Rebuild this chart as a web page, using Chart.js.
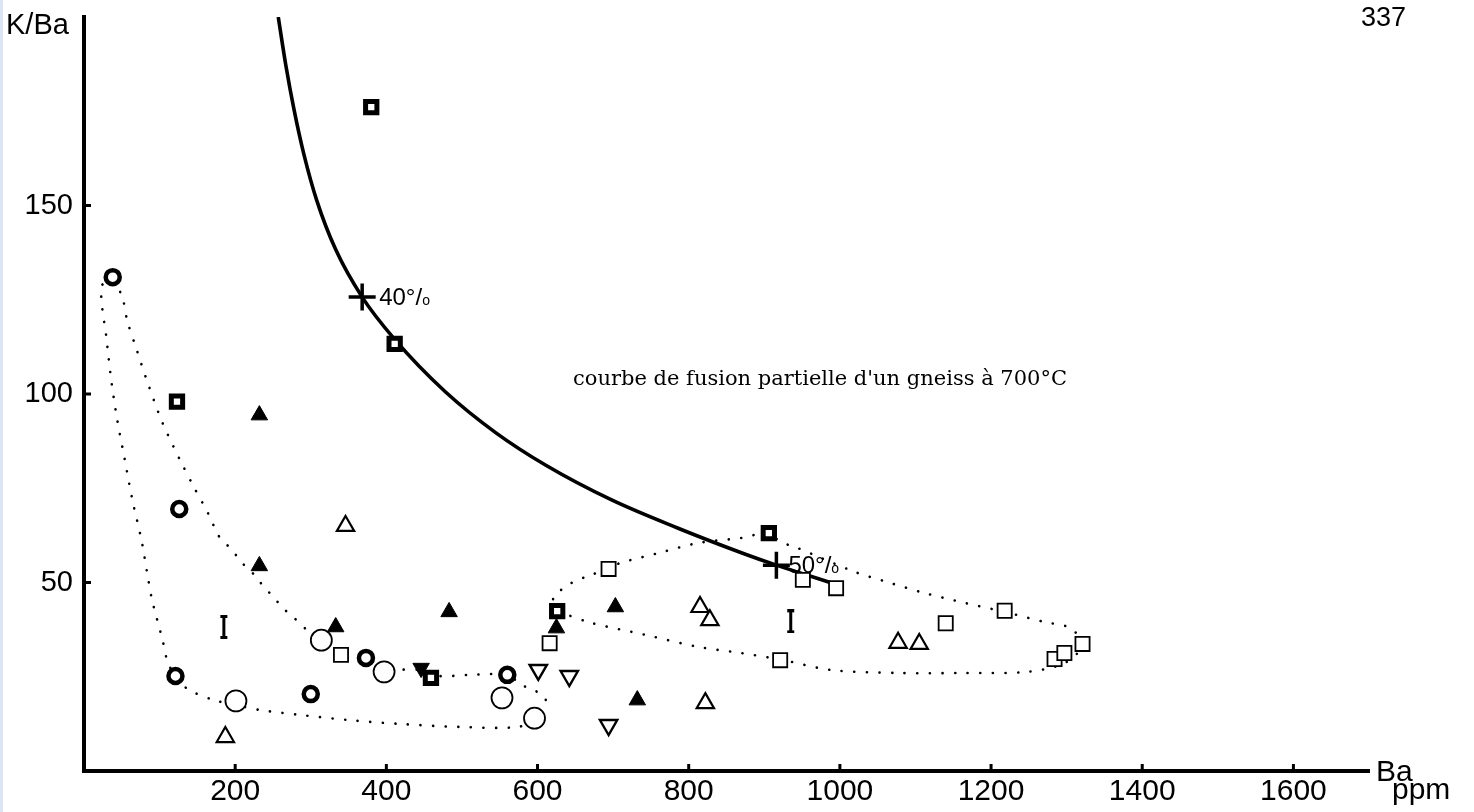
<!DOCTYPE html>
<html>
<head>
<meta charset="utf-8">
<script src="https://cdn.jsdelivr.net/npm/chart.js@4"></script>
<style>
  body { margin: 0; background: #fff; }
  #wrap { position: relative; width: 1474px; height: 812px; }
  #strip { position: absolute; left: 0; top: 0; width: 3px; height: 812px; background: #dce5f3; }
</style>
</head>
<body>
<div id="wrap">
  <canvas id="chart" width="1474" height="812"></canvas>
  <div id="strip"></div>
</div>
<script>
// axis ticks
const xTicks = [200, 400, 600, 800, 1000, 1200, 1400, 1600];
const yTicks = [50, 100, 150];

// partial melting curve of a gneiss at 700 C
const curveBa  = [257, 267, 278, 291, 308, 333, 368, 411, 478, 545, 611, 698, 786, 875, 916, 995];
const curveKBa = [200, 187.2, 175.3, 163.5, 151.3, 138.3, 125.7, 114.5, 100.6, 89.7, 81.1, 71.9, 64.4, 57.5, 54.6, 49.5];
const meltBa = [368, 916];
const meltKBa = [125.7, 54.6];
const meltLabels = ['40', '50'];

// dotted envelopes
const loopABa  = [38, 23, 30, 36, 44, 54, 64, 76, 84, 90, 104, 110, 121, 139, 172, 201, 232, 285, 351, 417, 496, 575, 596, 611, 609, 595, 579, 560, 509, 469, 443, 413, 397, 373, 340, 315, 295, 278, 266, 248, 236, 228, 212, 203, 192, 179, 164, 146, 129, 104, 83, 69, 57, 51, 38];
const loopAKBa = [131, 128.4, 114.3, 103.7, 93.1, 82.5, 71.9, 61.3, 52, 45.4, 34.7, 29.4, 24.9, 21.5, 18.8, 17.5, 16.2, 14.9, 13.5, 12.5, 11.7, 11.7, 14.1, 18, 19.6, 21.5, 22.8, 25.5, 25.5, 25.2, 26.8, 26.8, 26.3, 30, 30.8, 34.7, 37.4, 40.6, 42.7, 46.7, 49.3, 51.5, 54.6, 56.8, 59.4, 62.1, 68.4, 75.1, 81.7, 92.3, 103.7, 112.2, 119.6, 125.5, 131];
const loopBBa  = [626, 621, 645, 671, 694, 710, 760, 813, 869, 905, 922, 941, 1020, 1063, 1112, 1165, 1218, 1271, 1305, 1321, 1297, 1248, 1165, 1077, 988, 925, 869, 813, 743, 671, 626];
const loopBKBa = [42.4, 45.9, 49.9, 52, 53.8, 55.2, 57.8, 60.5, 61.8, 63.1, 60.7, 59.4, 52.8, 50.1, 47.2, 44.6, 42.2, 39.5, 37.9, 33.4, 28.6, 26.3, 26, 26, 26.8, 29.4, 31.3, 32.9, 36.1, 39.3, 42.4];

// samples, one pair of arrays per symbol
const boldCircleBa  = [38, 126, 121, 300, 373, 560];
const boldCircleKBa = [131, 69.5, 25.2, 20.4, 30, 25.5];
const openCircleBa  = [201, 314, 397, 553, 596];
const openCircleKBa = [18.6, 34.7, 26.3, 19.4, 14];
const dotSquareBa   = [380, 411, 123, 459, 626, 906];
const dotSquareKBa  = [176.1, 113.3, 98, 24.7, 42.4, 63.1];
const openSquareBa  = [340, 616, 694, 951, 995, 921, 1140, 1218, 1284, 1297, 1321];
const openSquareKBa = [30.8, 33.9, 53.6, 50.7, 48.5, 29.4, 39.2, 42.5, 29.7, 31.3, 33.7];
const filledTriBa   = [232, 232, 333, 483, 625, 703, 732];
const filledTriKBa  = [94.4, 54.4, 38.2, 42.2, 37.9, 43.5, 18.8];
const openTriBa     = [346, 187, 815, 828, 822, 1077, 1105];
const openTriKBa    = [65, 9, 43.5, 40, 18, 34, 33.7];
const openDownBa    = [601, 642, 694];
const openDownKBa   = [26.8, 25.2, 12.2];
const filledDownBa  = [446];
const filledDownKBa = [27.3];
const barBa         = [185, 935];
const barKBa        = [38.2, 39.7];

function pts(xs, ys) {
  return xs.map((v, i) => ({ x: v, y: ys[i] }));
}

// "I" shaped symbol
function barSymbol() {
  const c = document.createElement('canvas');
  c.width = 9; c.height = 24;
  const g = c.getContext('2d');
  g.fillStyle = '#000';
  g.fillRect(3, 1, 3, 22);
  g.fillRect(1, 0, 7, 3);
  g.fillRect(1, 21, 7, 3);
  return c;
}

function markers(xs, ys, style, opts) {
  return Object.assign({
    data: pts(xs, ys),
    pointStyle: style,
    showLine: false,
    borderColor: '#000',
    backgroundColor: '#fff',
    order: 1
  }, opts);
}

const dotted = {
  showLine: true,
  pointRadius: 0,
  borderColor: '#000',
  borderWidth: 2.6,
  borderDash: [0.1, 12.5],
  borderCapStyle: 'round',
  tension: 0.3,
  fill: false,
  order: 5
};

const sansFont = '"Liberation Sans", Arial, sans-serif';

const extras = {
  id: 'extras',
  afterDatasetsDraw(chart) {
    const ctx = chart.ctx;
    const x = chart.scales.x, y = chart.scales.y;
    const area = chart.chartArea;
    ctx.save();
    ctx.fillStyle = '#000';
    ctx.strokeStyle = '#000';

    // inward tick marks
    ctx.lineWidth = 3;
    xTicks.forEach(v => {
      const px = x.getPixelForValue(v);
      ctx.beginPath(); ctx.moveTo(px, area.bottom); ctx.lineTo(px, area.bottom - 7); ctx.stroke();
    });
    yTicks.forEach(v => {
      const py = y.getPixelForValue(v);
      ctx.beginPath(); ctx.moveTo(area.left, py); ctx.lineTo(area.left + 7, py); ctx.stroke();
    });

    // melt percentage labels
    ctx.textBaseline = 'alphabetic';
    ctx.textAlign = 'left';
    meltBa.forEach((v, i) => {
      const px = x.getPixelForValue(v) + (i === 0 ? 17 : 12);
      const py = y.getPixelForValue(meltKBa[i]) + 8;
      ctx.font = '24px ' + sansFont;
      const s = meltLabels[i] + '°/';
      ctx.fillText(s, px, py);
      const w = ctx.measureText(s).width;
      ctx.font = '14px ' + sansFont;
      ctx.fillText('o', px + w, py);
    });

    // curve caption
    ctx.font = '21px "DejaVu Serif", serif';
    ctx.fillText("courbe de fusion partielle d'un gneiss à 700°C", x.getPixelForValue(647), y.getPixelForValue(102.3));

    // axis names
    ctx.font = '29px ' + sansFont;
    ctx.fillText('K/Ba', 6, 34);
    ctx.font = '30px ' + sansFont;
    ctx.fillText('Ba', area.right + 7, area.bottom + 10);
    ctx.fillText('ppm', area.right + 23, area.bottom + 28);

    // page number
    ctx.font = '27px ' + sansFont;
    ctx.fillText('337', 1361, 26);
    ctx.restore();
  }
};

new Chart(document.getElementById('chart'), {
  type: 'scatter',
  data: {
    datasets: [
      Object.assign({ data: pts(loopABa, loopAKBa) }, dotted),
      Object.assign({ data: pts(loopBBa, loopBKBa) }, dotted),
      {
        data: pts(curveBa, curveKBa),
        showLine: true,
        pointRadius: 0,
        borderColor: '#000',
        borderWidth: 3.6,
        cubicInterpolationMode: 'monotone',
        fill: false,
        order: 4
      },
      markers(meltBa, meltKBa, 'cross', { pointRadius: 13.5, borderWidth: 3.5 }),
      markers(boldCircleBa, boldCircleKBa, 'circle', { pointRadius: 7, borderWidth: 4.5 }),
      markers(openCircleBa, openCircleKBa, 'circle', { pointRadius: 10.5, borderWidth: 1.8 }),
      markers(dotSquareBa, dotSquareKBa, 'rect', { pointRadius: 8, borderWidth: 5 }),
      markers(openSquareBa, openSquareKBa, 'rect', { pointRadius: 10, borderWidth: 1.8 }),
      markers(filledTriBa, filledTriKBa, 'triangle', { pointRadius: 9.5, borderWidth: 1, backgroundColor: '#000' }),
      markers(openTriBa, openTriKBa, 'triangle', { pointRadius: 10, borderWidth: 2.2 }),
      markers(openDownBa, openDownKBa, 'triangle', { pointRadius: 10, borderWidth: 2.4, rotation: 180 }),
      markers(filledDownBa, filledDownKBa, 'triangle', { pointRadius: 9.5, borderWidth: 1, rotation: 180, backgroundColor: '#000' }),
      markers(barBa, barKBa, barSymbol(), { pointRadius: 10 })
    ]
  },
  options: {
    responsive: false,
    devicePixelRatio: 1,
    animation: false,
    layout: { autoPadding: false, padding: { top: 17, right: 105, left: 0, bottom: 0 } },
    plugins: { legend: { display: false }, tooltip: { enabled: false } },
    scales: {
      x: {
        type: 'linear',
        min: 0,
        max: 1700,
        afterBuildTicks: s => { s.ticks = xTicks.map(v => ({ value: v })); },
        afterFit: s => { s.height = 41; s.paddingLeft = 0; s.paddingRight = 0; },
        grid: { display: false, drawTicks: false },
        border: { display: true, color: '#000', width: 4 },
        ticks: { color: '#000', font: { family: sansFont, size: 30 }, padding: 3, autoSkip: false, maxRotation: 0,
                 callback: v => String(v) }
      },
      y: {
        type: 'linear',
        min: 0,
        max: 200,
        afterBuildTicks: s => { s.ticks = yTicks.map(v => ({ value: v })); },
        afterFit: s => { s.width = 84; s.paddingTop = 0; s.paddingBottom = 0; },
        grid: { display: false, drawTicks: false },
        border: { display: true, color: '#000', width: 4 },
        ticks: { color: '#000', font: { family: sansFont, size: 29 }, padding: 11, callback: v => String(v) }
      }
    }
  },
  plugins: [extras]
});
</script>
</body>
</html>
